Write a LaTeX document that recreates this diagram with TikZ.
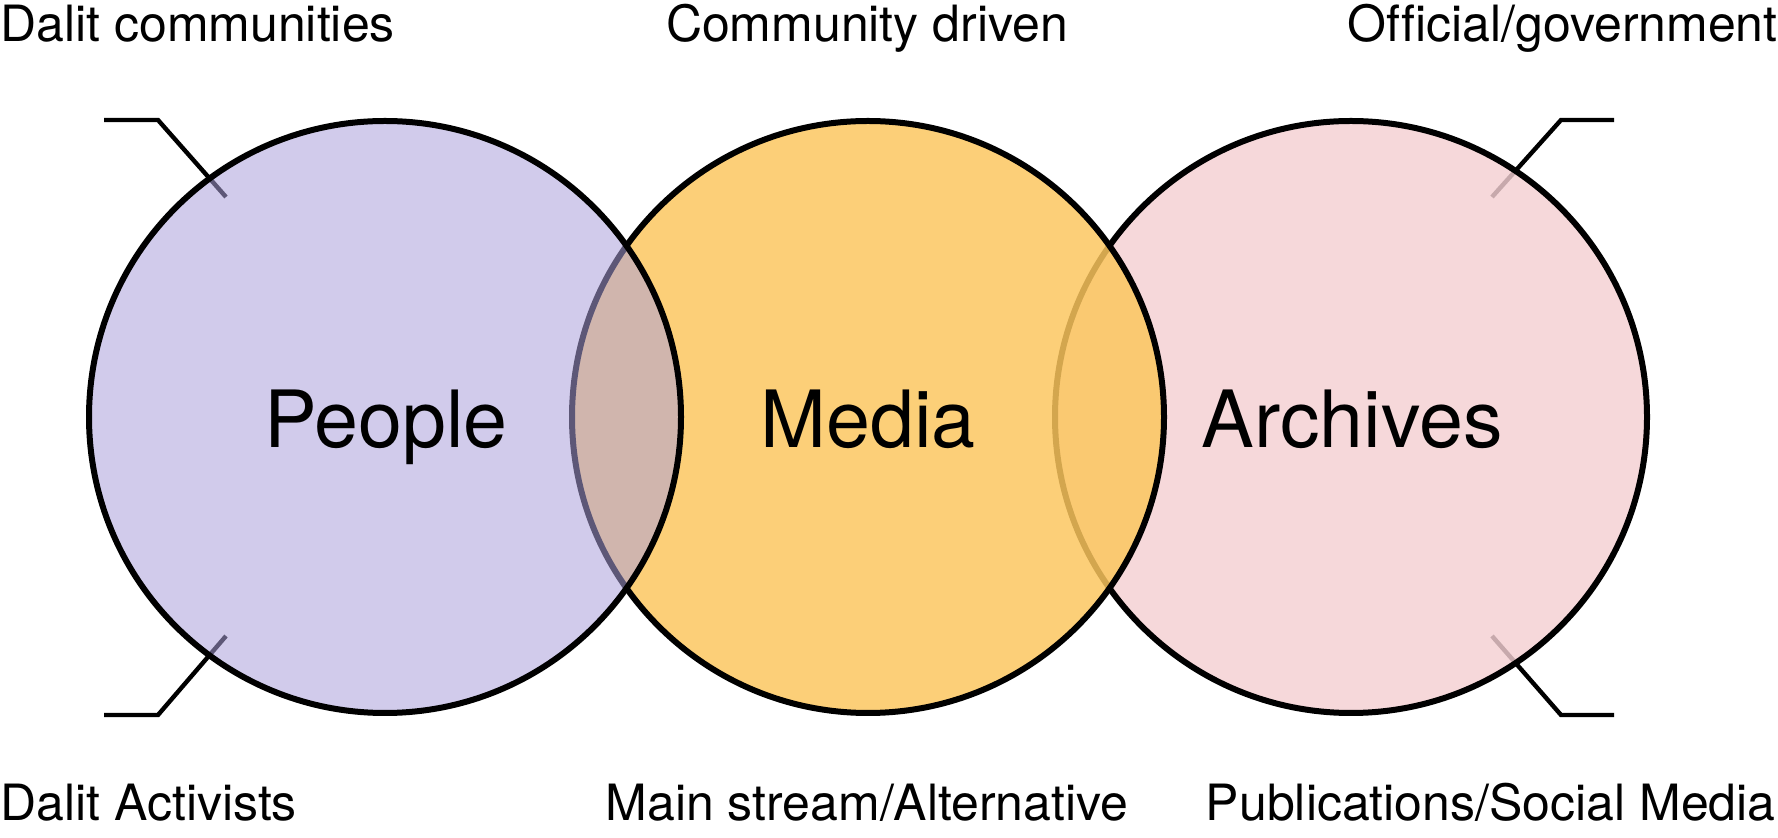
\documentclass[tikz,border=0pt]{standalone}
\usepackage{fontspec}
\setmainfont{TeX Gyre Heros}[Ligatures=NoCommon]
\usetikzlibrary{positioning}
\definecolor{PeopleFill}{HTML}{ABA0DA}
\definecolor{MediaFill}{HTML}{FCC65E}
\definecolor{ArchFill}{HTML}{F4CFD2}

\begin{document}
\begin{tikzpicture}[
  x=0.5pt,y=-0.5pt,
  circ/.style={circle,draw=black,line width=3pt,minimum size=296pt,inner sep=0pt},
  big/.style={font=\fontsize{39.5}{44}\selectfont,inner sep=0pt,anchor=base},
  small/.style={font=\fontsize{25}{30}\selectfont,inner sep=0pt},
  leader/.style={line width=2.2pt,draw=black}
]
\useasboundingbox (0,0) rectangle (1778,838);
% leader lines (under the circles)
\coordinate (dcA) at (104,120); \coordinate (dcB) at (158,120); \coordinate (dcC) at (226,197);
\coordinate (daA) at (104,715); \coordinate (daB) at (158,715); \coordinate (daC) at (226,636);
\coordinate (ogA) at (1614,120); \coordinate (ogB) at (1561,120); \coordinate (ogC) at (1492,197);
\coordinate (psA) at (1614,715); \coordinate (psB) at (1561,715); \coordinate (psC) at (1492,636);
\draw[leader] (dcA) -- (dcB) -- (dcC);
\draw[leader] (daA) -- (daB) -- (daC);
\draw[leader] (ogA) -- (ogB) -- (ogC);
\draw[leader] (psA) -- (psB) -- (psC);
% circles
\node[circ,fill=ArchFill,fill opacity=0.82] (archives) at (1351,417) {};
\node[circ,fill=MediaFill,fill opacity=0.84] (media) at (868,417) {};
\node[circ,fill=PeopleFill,fill opacity=0.55] (people) at (385,417) {};
\node[big] (peopletxt) at (386,448) {People};
\node[big] (mediatxt) at (868,448) {Media};
\node[big] (archtxt) at (1352,448) {Archives};
% outer labels
\node[small,anchor=base west] (dalitcom) at (0,42) {Dalit communities};
\node[small,anchor=base] (commdriven) at (867,42) {Community driven};
\node[small,anchor=base east] (official) at (1778,42) {Official/government};
\node[small,anchor=base west] (dalitact) at (0,820) {Dalit Activists};
\node[small,anchor=base] (mainstream) at (867,820) {Main stream/Alternative};
\node[small,anchor=base east] (publications) at (1776,820) {Publications/Social Media};
\end{tikzpicture}
\end{document}
